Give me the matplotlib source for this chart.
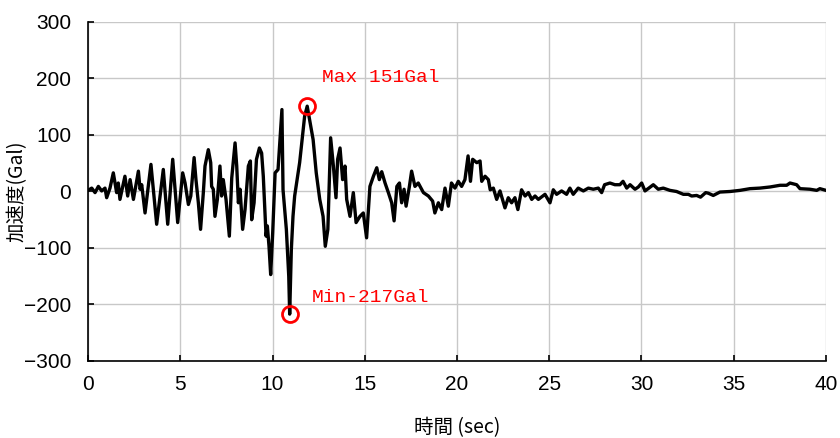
import matplotlib
matplotlib.use('Agg')
import matplotlib.pyplot as plt
import numpy as np

# 波形データ
time_sec = [
    0.0, 0.2, 0.38, 0.56, 0.74, 0.92, 1.01, 1.19, 1.37, 1.55, 1.64, 1.73,
    2.0, 2.15, 2.28, 2.46, 2.73, 2.82, 2.91, 3.09, 3.41, 3.72, 4.08, 4.32,
    4.59, 4.86, 5.13, 5.26, 5.44, 5.57, 5.75, 5.85, 5.98, 6.1, 6.25, 6.34,
    6.52, 6.65, 6.7, 6.79, 6.88, 7.01, 7.15, 7.24, 7.33, 7.48, 7.66, 7.79,
    7.97, 8.06, 8.15, 8.24, 8.38, 8.51, 8.69, 8.8, 8.87, 9.0, 9.13, 9.29,
    9.41, 9.5, 9.65, 9.72, 9.81, 9.9, 10.01, 10.14, 10.3, 10.51, 10.57, 10.75,
    10.88, 10.93, 11.02, 11.11, 11.2, 11.47, 11.74, 11.88, 12.01, 12.2, 12.37, 12.56,
    12.74, 12.86, 13.0, 13.15, 13.3, 13.44, 13.53, 13.66, 13.8, 13.93, 14.02, 14.2,
    14.38, 14.53, 14.74, 14.92, 15.1, 15.28, 15.47, 15.65, 15.79, 15.92, 16.1, 16.28,
    16.46, 16.59, 16.74, 16.88, 17.0, 17.13, 17.24, 17.42, 17.54, 17.72, 17.9, 18.18,
    18.45, 18.68, 18.8, 18.99, 19.17, 19.35, 19.53, 19.7, 19.89, 20.07, 20.25, 20.43,
    20.6, 20.73, 20.85, 21.07, 21.25, 21.34, 21.52, 21.7, 21.8, 21.97, 22.15, 22.33,
    22.6, 22.78, 22.96, 23.14, 23.3, 23.5, 23.69, 23.87, 24.05, 24.23, 24.41, 24.77,
    25.04, 25.22, 25.4, 25.67, 25.94, 26.12, 26.3, 26.57, 26.85, 27.12, 27.39, 27.66,
    27.84, 28.0, 28.29, 28.56, 28.83, 29.0, 29.2, 29.38, 29.65, 29.83, 30.01, 30.19,
    30.4, 30.64, 30.91, 31.18, 31.54, 31.9, 32.27, 32.54, 32.72, 32.99, 33.2, 33.48,
    33.62, 33.89, 34.25, 34.8, 35.34, 35.88, 36.42, 36.97, 37.51, 37.87, 38.05, 38.41,
    38.59, 39.13, 39.5, 39.67, 40.0,
]
accel_gal = [
    2, 6, -2, 9, 1, 6, -11, 6, 33, -2, 15, -14,
    27, -8, 21, -14, 36, 4, 12, -38, 48, -58, 39, -58,
    57, -55, 33, 15, -23, -8, 60, 21, -20, -67, -2, 45,
    74, 51, 9, 4, -44, -14, 45, -8, 21, -14, -79, 24,
    86, 45, -20, 4, -67, -32, 45, 54, -50, -20, 57, 77,
    68, 27, -79, -61, -97, -147, -73, 33, 39, 145, 3, -67,
    -150, -217, -103, -44, -8, 51, 133, 151, 127, 92, 33, -14,
    -44, -97, -67, 95, 45, -11, 57, 77, 21, 45, -14, -44,
    -2, -55, -44, -38, -82, 9, 27, 42, 21, 35, 15, -2,
    -20, -52, 9, 15, -20, 4, -26, 9, 36, 9, 15, -2,
    -8, -17, -38, -20, -32, 6, -26, 15, 6, 18, 9, 21,
    63, 18, 57, 51, 54, 18, 27, 21, 3, 6, -14, 1,
    -29, -11, -20, -11, -32, 3, -8, -2, -14, -8, -14, -5,
    -20, 3, -5, 1, -5, 6, -5, 6, 1, 6, 4, 6,
    -2, 12, 15, 12, 12, 18, 6, 12, 4, 8, 15, 1,
    6, 12, 4, 6, 2, 0, -5, -5, -8, -7, -10, -2,
    -3, -7, -1, 0, 2, 5, 6, 8, 11, 11, 15, 12,
    5, 4, 2, 5, 2,
]

x_ticks = [0, 5, 10, 15, 20, 25, 30, 35, 40]
y_ticks = [-300, -200, -100, 0, 100, 200, 300]

t = np.array(time_sec)
a = np.array(accel_gal)
i_max = int(np.argmax(a))
i_min = int(np.argmin(a))

cjk = ['Noto Sans CJK JP', 'DejaVu Sans']

fig = plt.figure(figsize=(8.4, 4.38), dpi=100)
ax = fig.add_axes([0.1048, 0.1758, 0.8785, 0.774])

ax.plot(t, a, color='black', lw=2.4)

# 最大・最小のマーク
ax.plot(t[i_max], a[i_max], 'o', ms=11.5, mfc='none', mec='red', mew=2)
ax.plot(t[i_min], a[i_min], 'o', ms=11.5, mfc='none', mec='red', mew=2)
ax.annotate(f'Max {a[i_max]}Gal', (t[i_max], a[i_max]), xytext=(11, 21),
            textcoords='offset points', color='red', fontsize=14,
            family='Liberation Mono', va='center')
ax.annotate(f'Min{a[i_min]}Gal', (t[i_min], a[i_min]), xytext=(16, 12),
            textcoords='offset points', color='red', fontsize=14,
            family='Liberation Mono', va='center')

ax.set_xlim(0, 40)
ax.set_ylim(-300, 300)
ax.set_xticks(x_ticks)
ax.set_yticks(y_ticks)
ax.grid(True, color='#c8c8c8', lw=1)
ax.set_axisbelow(True)
for s in ['top', 'right']:
    ax.spines[s].set_visible(False)
ax.spines['left'].set_linewidth(1.2)
ax.spines['bottom'].set_linewidth(1.2)
ax.tick_params(direction='in', length=4, width=1.2)

for lab in ax.get_yticklabels():
    lab.set_family(['Liberation Sans', 'DejaVu Sans'])
    lab.set_fontsize(15)
for lab in ax.get_xticklabels():
    lab.set_family(['Liberation Sans Narrow', 'Liberation Sans'])
    lab.set_fontsize(15)
ax.tick_params(axis='x', pad=10)
ax.tick_params(axis='y', pad=12)

ax.set_xlabel('時間 (sec)', family=cjk, fontsize=14, labelpad=17)
ax.set_ylabel('加速度(Gal)', family=cjk, fontsize=14)
ax.yaxis.set_label_coords(-0.082, 0.5)

fig.savefig('out.png', dpi=100)
